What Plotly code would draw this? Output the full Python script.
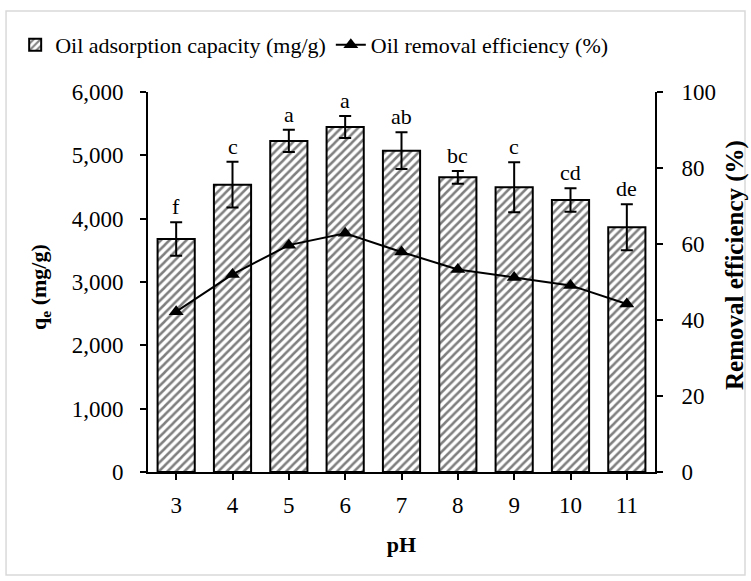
import plotly.graph_objects as go

# pH levels tested
ph = ["3", "4", "5", "6", "7", "8", "9", "10", "11"]

# Oil adsorption capacity q_e (mg/g) with standard deviations
capacity = [3680, 4537, 5227, 5447, 5074, 4653, 4495, 4295, 3864]
capacity_sd = [265, 360, 175, 175, 290, 100, 395, 185, 363]

# Significance letters from the post-hoc test
letters = ["f", "c", "a", "a", "ab", "bc", "c", "cd", "de"]

# Oil removal efficiency (%)
efficiency = [42.2, 52.0, 59.7, 62.8, 57.9, 53.3, 51.2, 49.1, 44.2]

FONT = '"Liberation Serif", "Times New Roman", serif'
FS = 22
TICK_FS = 23

fig = go.Figure()

fig.add_trace(go.Bar(
    x=ph, y=capacity,
    name="Oil adsorption capacity (mg/g)",
    marker=dict(
        color="white",
        line=dict(color="black", width=2),
        pattern=dict(shape="/", fgcolor="black", bgcolor="white", size=6, solidity=0.42),
    ),
    error_y=dict(type="data", array=capacity_sd, visible=True,
                 color="black", thickness=2, width=6),
    yaxis="y",
))

fig.add_trace(go.Scatter(
    x=ph, y=efficiency,
    name="Oil removal efficiency (%)",
    mode="lines+markers",
    line=dict(color="black", width=2),
    marker=dict(symbol="triangle-up", size=13, color="black"),
    yaxis="y2",
))

# Group letters above each error bar (category index positions)
for i, (v, sd, lab) in enumerate(zip(capacity, capacity_sd, letters)):
    fig.add_annotation(
        x=i, y=v + sd, xref="x", yref="y", text=lab,
        showarrow=False, yanchor="bottom", yshift=1,
        font=dict(family=FONT, size=FS, color="black"),
    )

# Axis titles for the two y axes
fig.add_annotation(
    x=-0.213, y=0.487, xref="paper", yref="paper",
    text="<b>q<sub>e</sub> (mg/g)</b>", textangle=-90, showarrow=False,
    xanchor="center", yanchor="middle",
    font=dict(family=FONT, size=FS, color="black"),
)
fig.add_annotation(
    x=1.158, y=0.545, xref="paper", yref="paper",
    text="<b>Removal efficiency (%)</b>", textangle=-90, showarrow=False,
    xanchor="center", yanchor="middle",
    font=dict(family=FONT, size=25, color="black"),
)

# Light frame around the whole chart
fig.add_shape(type="rect", xref="paper", yref="paper",
              x0=-0.280, x1=1.1775, y0=-0.271, y1=1.213,
              line=dict(color="#d9d9d9", width=1.5), fillcolor="rgba(0,0,0,0)", layer="below")

fig.update_layout(
    width=751, height=581,
    margin=dict(l=148, r=96, t=92, b=109),
    paper_bgcolor="white", plot_bgcolor="white",
    font=dict(family=FONT, size=FS, color="black"),
    bargap=0.34,
    showlegend=True,
    legend=dict(orientation="h", x=-0.262, y=1.124, xanchor="left", yanchor="middle",
                font=dict(family=FONT, size=FS, color="black"),
                bgcolor="rgba(0,0,0,0)", itemwidth=30, tracegroupgap=0),
    xaxis=dict(
        type="category", range=[-0.5, 8.5],
        showline=True, linecolor="black", linewidth=2,
        ticks="outside", ticklen=6, tickwidth=2, tickcolor="black",
        showgrid=False, zeroline=False,
        title=dict(text="<b>pH</b>", standoff=20, font=dict(family=FONT, size=FS)),
        tickfont=dict(family=FONT, size=TICK_FS),
        ticklabelstandoff=5,
    ),
    yaxis=dict(
        range=[0, 6000], tickvals=[0, 1000, 2000, 3000, 4000, 5000, 6000],
        tickformat=",",
        showline=True, linecolor="black", linewidth=2,
        ticks="outside", ticklen=6, tickwidth=2, tickcolor="black",
        showgrid=False, zeroline=False,
        tickfont=dict(family=FONT, size=TICK_FS),
        ticklabelstandoff=12,
    ),
    yaxis2=dict(
        range=[0, 100], tickvals=[0, 20, 40, 60, 80, 100],
        overlaying="y", side="right",
        showline=True, linecolor="black", linewidth=2,
        ticks="outside", ticklen=6, tickwidth=2, tickcolor="black",
        showgrid=False, zeroline=False,
        tickfont=dict(family=FONT, size=TICK_FS),
        ticklabelstandoff=14,
    ),
)

fig.write_html("out.html")
